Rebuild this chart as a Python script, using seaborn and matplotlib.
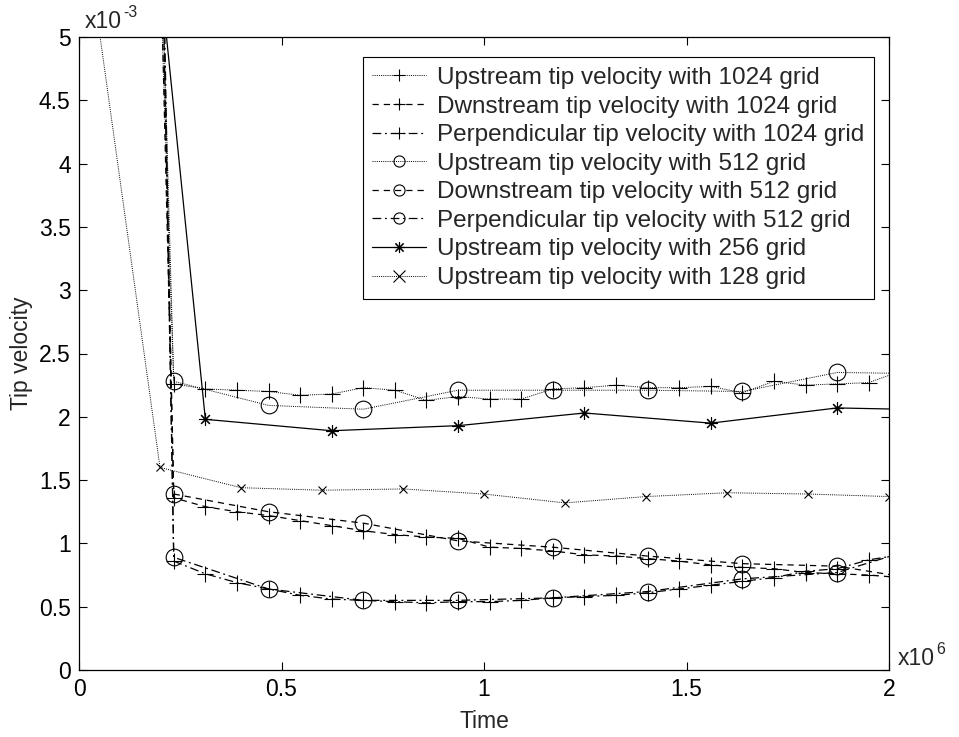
import matplotlib
matplotlib.use("Agg")
import matplotlib.pyplot as plt
import numpy as np
import pandas as pd
import seaborn as sns

# time in units of 1e6, tip velocity in units of 1e-3
t1024 = [0, 0.234, 0.312, 0.390, 0.468, 0.546, 0.624, 0.702, 0.780, 0.858, 0.936,
         1.014, 1.092, 1.170, 1.248, 1.326, 1.404, 1.482, 1.560, 1.638, 1.716,
         1.794, 1.872, 1.950, 2.028]
up1024 = [25.0, 2.26, 2.22, 2.21, 2.20, 2.17, 2.18, 2.23, 2.21, 2.13, 2.16,
          2.14, 2.14, 2.22, 2.23, 2.25, 2.23, 2.23, 2.24, 2.19, 2.28,
          2.25, 2.26, 2.27, 2.36]
down1024 = [32.0, 1.36, 1.29, 1.25, 1.22, 1.18, 1.14, 1.10, 1.07, 1.05, 1.04,
            0.97, 0.96, 0.94, 0.91, 0.90, 0.88, 0.86, 0.83, 0.81, 0.80,
            0.77, 0.76, 0.75, 0.73]
perp1024 = [45.0, 0.86, 0.76, 0.69, 0.64, 0.59, 0.56, 0.55, 0.54, 0.53, 0.54,
            0.54, 0.55, 0.57, 0.58, 0.59, 0.61, 0.64, 0.67, 0.70, 0.73,
            0.78, 0.80, 0.87, 0.91]

t512 = [0, 0.234, 0.468, 0.702, 0.936, 1.170, 1.404, 1.638, 1.872, 2.106]
up512 = [28.7, 2.28, 2.09, 2.06, 2.21, 2.21, 2.21, 2.20, 2.35, 2.34]
down512 = [36.0, 1.39, 1.25, 1.16, 1.02, 0.97, 0.90, 0.84, 0.82, 0.70]
perp512 = [41.0, 0.89, 0.64, 0.55, 0.55, 0.57, 0.62, 0.72, 0.77, 1.00]

t256 = [0, 0.312, 0.624, 0.936, 1.248, 1.560, 1.872, 2.184]
up256 = [11.8, 1.98, 1.89, 1.93, 2.03, 1.95, 2.07, 2.05]

t128 = [0, 0.2, 0.4, 0.6, 0.8, 1.0, 1.2, 1.4, 1.6, 1.8, 2.0]
up128 = [6.2, 1.60, 1.44, 1.42, 1.43, 1.39, 1.32, 1.37, 1.40, 1.39, 1.37]

labels = ["Upstream tip velocity with 1024 grid",
          "Dwnstream tip velocity with 1024 grid",
          "Perpendicular tip velocity with 1024 grid",
          "Upstream tip velocity with 512 grid",
          "Downstream tip velocity with 512 grid",
          "Perpendicular tip velocity with 512 grid",
          "Upstream tip velocity with 256 grid",
          "Upstream tip velocity with 128 grid"]

sns.set_style("white")
plt.rcParams["font.family"] = ["Liberation Sans", "DejaVu Sans"]

FS = 16.5

fig = plt.figure(figsize=(9.59, 7.37), dpi=100)
ax = fig.add_axes([79 / 959, 67 / 737, 810 / 959, 633 / 737])

dotted = (0, (1, 1.2))
dashed = (0, (5, 4))
dashdot = (0, (7, 3, 1.5, 3))
asterisk = (8, 2, 0)

series = [
    (t1024, up1024, "+", dotted, 11),
    (t1024, down1024, "+", dashed, 11),
    (t1024, perp1024, "+", dashdot, 11),
    (t512, up512, "o", dotted, 12),
    (t512, down512, "o", dashed, 12),
    (t512, perp512, "o", dashdot, 12),
    (t256, up256, asterisk, "-", 9),
    (t128, up128, "x", dotted, 6),
]

for (tx, vy, mk, ls, ms), lab in zip(series, labels):
    df = pd.DataFrame({"Time": tx, "Tip velocity": vy})
    lw = 0.7 if ls is dotted else 0.9
    sns.lineplot(data=df, x="Time", y="Tip velocity", ax=ax, color="black",
                 linestyle=ls, linewidth=lw, marker=mk, markersize=ms,
                 markerfacecolor="none", markeredgecolor="black",
                 markeredgewidth=0.8, label=lab, sort=False)

ax.set_xlim(0, 2)
ax.set_ylim(0, 5)
ax.set_xticks(np.arange(0, 2.01, 0.5))
ax.set_xticklabels(["0", "0.5", "1", "1.5", "2"])
ax.set_yticks(np.arange(0, 5.01, 0.5))
ax.set_yticklabels(["0", "0.5", "1", "1.5", "2", "2.5", "3", "3.5", "4", "4.5", "5"])
ax.tick_params(direction="in", length=6, width=0.8, labelsize=FS,
               top=True, right=True, bottom=True, left=True, pad=6, colors="black")
for sp in ax.spines.values():
    sp.set_linewidth(0.9)
    sp.set_color("black")

ax.set_xlabel("Time", fontsize=FS, labelpad=6)
ax.set_ylabel("Tip velocity", fontsize=FS, labelpad=4)

# exponent labels, MATLAB style
ax.annotate("x10", xy=(0, 1), xycoords="axes fraction", xytext=(4, 3),
            textcoords="offset points", fontsize=FS, ha="left", va="bottom")
ax.annotate("-3", xy=(0, 1), xycoords="axes fraction", xytext=(32, 12),
            textcoords="offset points", fontsize=FS * 0.7, ha="left", va="bottom")
ax.annotate("x10", xy=(1, 0), xycoords="axes fraction", xytext=(6, 0),
            textcoords="offset points", fontsize=FS, ha="left", va="bottom")
ax.annotate("6", xy=(1, 0), xycoords="axes fraction", xytext=(34, 9),
            textcoords="offset points", fontsize=FS * 0.7, ha="left", va="bottom")

leg = ax.legend(loc="upper right", bbox_to_anchor=(0.981, 0.968), fontsize=17.5,
                frameon=True, fancybox=False, framealpha=1, edgecolor="black",
                handlelength=2.2, handletextpad=0.45, borderpad=0.4,
                labelspacing=0.27, borderaxespad=0)
leg.get_frame().set_linewidth(0.8)
for h in leg.legend_handles:
    h.set_markersize(8)

fig.savefig("out.png", dpi=100)
